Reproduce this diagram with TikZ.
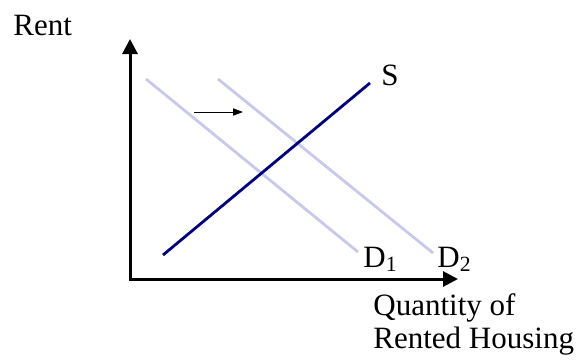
\documentclass[tikz,border=0pt]{standalone}
\usepackage{fontspec}
\setmainfont{Liberation Serif}
\usetikzlibrary{arrows.meta}
\definecolor{demand}{HTML}{C8C8EB}
\definecolor{supply}{HTML}{000080}

\begin{document}
\begin{tikzpicture}[x=0.5pt,y=-0.5pt,
   axis/.style={line width=1.5pt,line join=miter,
     {Triangle[length=7.5pt,width=7.5pt]}-{Triangle[length=7.5pt,width=7.5pt]}},
   demandline/.style={demand,line width=1.4pt},
   supplyline/.style={supply,line width=1.4pt},
   shiftarrow/.style={line width=0.5pt,-{Triangle[length=5pt,width=3.6pt]}},
   lbl/.style={anchor=base west,inner sep=0pt,font=\fontsize{15.5}{16.5}\selectfont}]
  \useasboundingbox (0,0) rectangle (582,359);
  % ejes
  \coordinate (origin) at (130,279);
  \coordinate (ytip) at (130,39);
  \coordinate (xtip) at (458,279);
  \draw[axis] (ytip) -- (origin) -- (xtip);
  % --- demanda D1, D2 ---
  \coordinate (d1top) at (146,79);
  \coordinate (d1end) at (358,252);
  \coordinate (d2top) at (218,79);
  \coordinate (d2end) at (433,253);
  \draw[demandline] (d1top) -- (d1end);
  \draw[demandline] (d2top) -- (d2end);
  % --- oferta S ---
  \coordinate (send) at (163,255);
  \coordinate (stop) at (370,83);
  \draw[supplyline] (send) -- (stop);
  % --- desplazamiento ---
  \coordinate (shiftfrom) at (194,112);
  \coordinate (shiftto) at (243,112);
  \draw[shiftarrow] (shiftfrom) -- (shiftto);
  % --- textos ---
  \node[lbl] (rent) at (13,35) {Rent};
  \node[lbl] (slabel) at (381,85) {S};
  \node[lbl] (d1label) at (363,267) {D\textsubscript{1}};
  \node[lbl] (d2label) at (437,267) {D\textsubscript{2}};
  \node[lbl,align=left] (qlabel) at (373,348) {Quantity of\\Rented Housing};
\end{tikzpicture}
\end{document}
